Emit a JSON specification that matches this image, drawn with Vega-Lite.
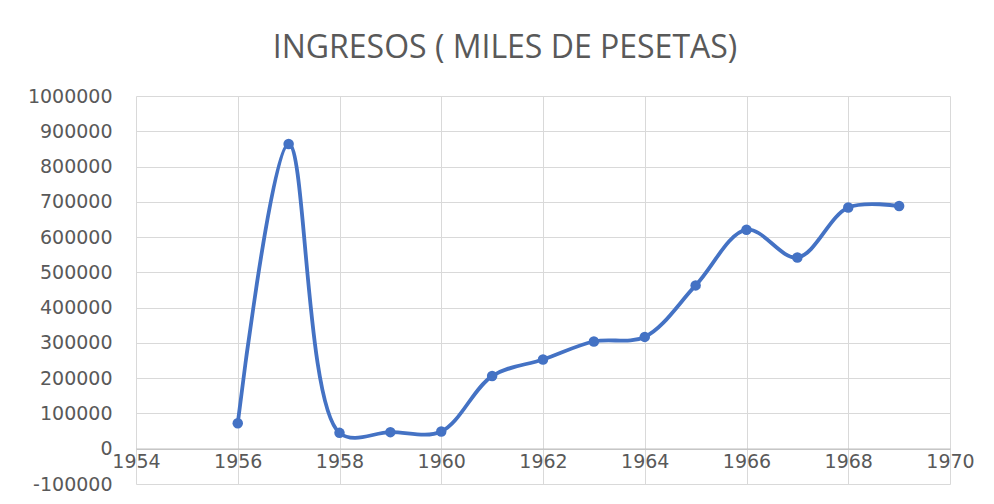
{
  "$schema": "https://vega.github.io/schema/vega-lite/v6.json",
  "width": 814,
  "height": 388,
  "autosize": {"type": "none"},
  "padding": {"left": 136, "top": 96, "right": 44, "bottom": 20},
  "background": "white",
  "title": {
    "text": "INGRESOS ( MILES DE PESETAS)",
    "font": "Open Sans",
    "fontSize": 32,
    "fontWeight": "normal",
    "color": "#595959",
    "anchor": "middle",
    "dx": -38,
    "offset": 22
  },
  "data": {
    "values": [
      {"year": 1956, "value": 72000},
      {"year": 1957, "value": 864000},
      {"year": 1958, "value": 45000},
      {"year": 1959, "value": 47000},
      {"year": 1960, "value": 49000},
      {"year": 1961, "value": 206000},
      {"year": 1962, "value": 253000},
      {"year": 1963, "value": 304000},
      {"year": 1964, "value": 317000},
      {"year": 1965, "value": 463000},
      {"year": 1966, "value": 621000},
      {"year": 1967, "value": 542000},
      {"year": 1968, "value": 684000},
      {"year": 1969, "value": 688000}
    ]
  },
  "config": {
    "view": {"stroke": null},
    "axis": {
      "labelFont": "DejaVu Sans",
      "labelFontSize": 19,
      "labelColor": "#595959",
      "gridColor": "#d9d9d9",
      "gridWidth": 1,
      "ticks": false,
      "title": null
    }
  },
  "encoding": {
    "x": {
      "field": "year",
      "type": "quantitative",
      "scale": {"domain": [1954, 1970], "nice": false, "zero": false},
      "axis": {
        "values": [1954, 1956, 1958, 1960, 1962, 1964, 1966, 1968, 1970],
        "format": "d",
        "offset": -35.3,
        "domainColor": "#bfbfbf",
        "domainWidth": 1.2,
        "labelPadding": 4,
        "labelFlush": false
      }
    },
    "y": {
      "field": "value",
      "type": "quantitative",
      "scale": {"domain": [-100000, 1000000], "nice": false},
      "axis": {
        "values": [-100000, 0, 100000, 200000, 300000, 400000, 500000, 600000, 700000, 800000, 900000, 1000000],
        "labelExpr": "'' + datum.value",
        "domain": false,
        "labelPadding": 24,
        "labelFlush": false
      }
    }
  },
  "layer": [
    {
      "mark": {"type": "line", "interpolate": "catmull-rom", "color": "#4472C4", "strokeWidth": 3.8}
    },
    {
      "mark": {"type": "point", "filled": true, "color": "#4472C4", "size": 110, "opacity": 1}
    }
  ]
}
